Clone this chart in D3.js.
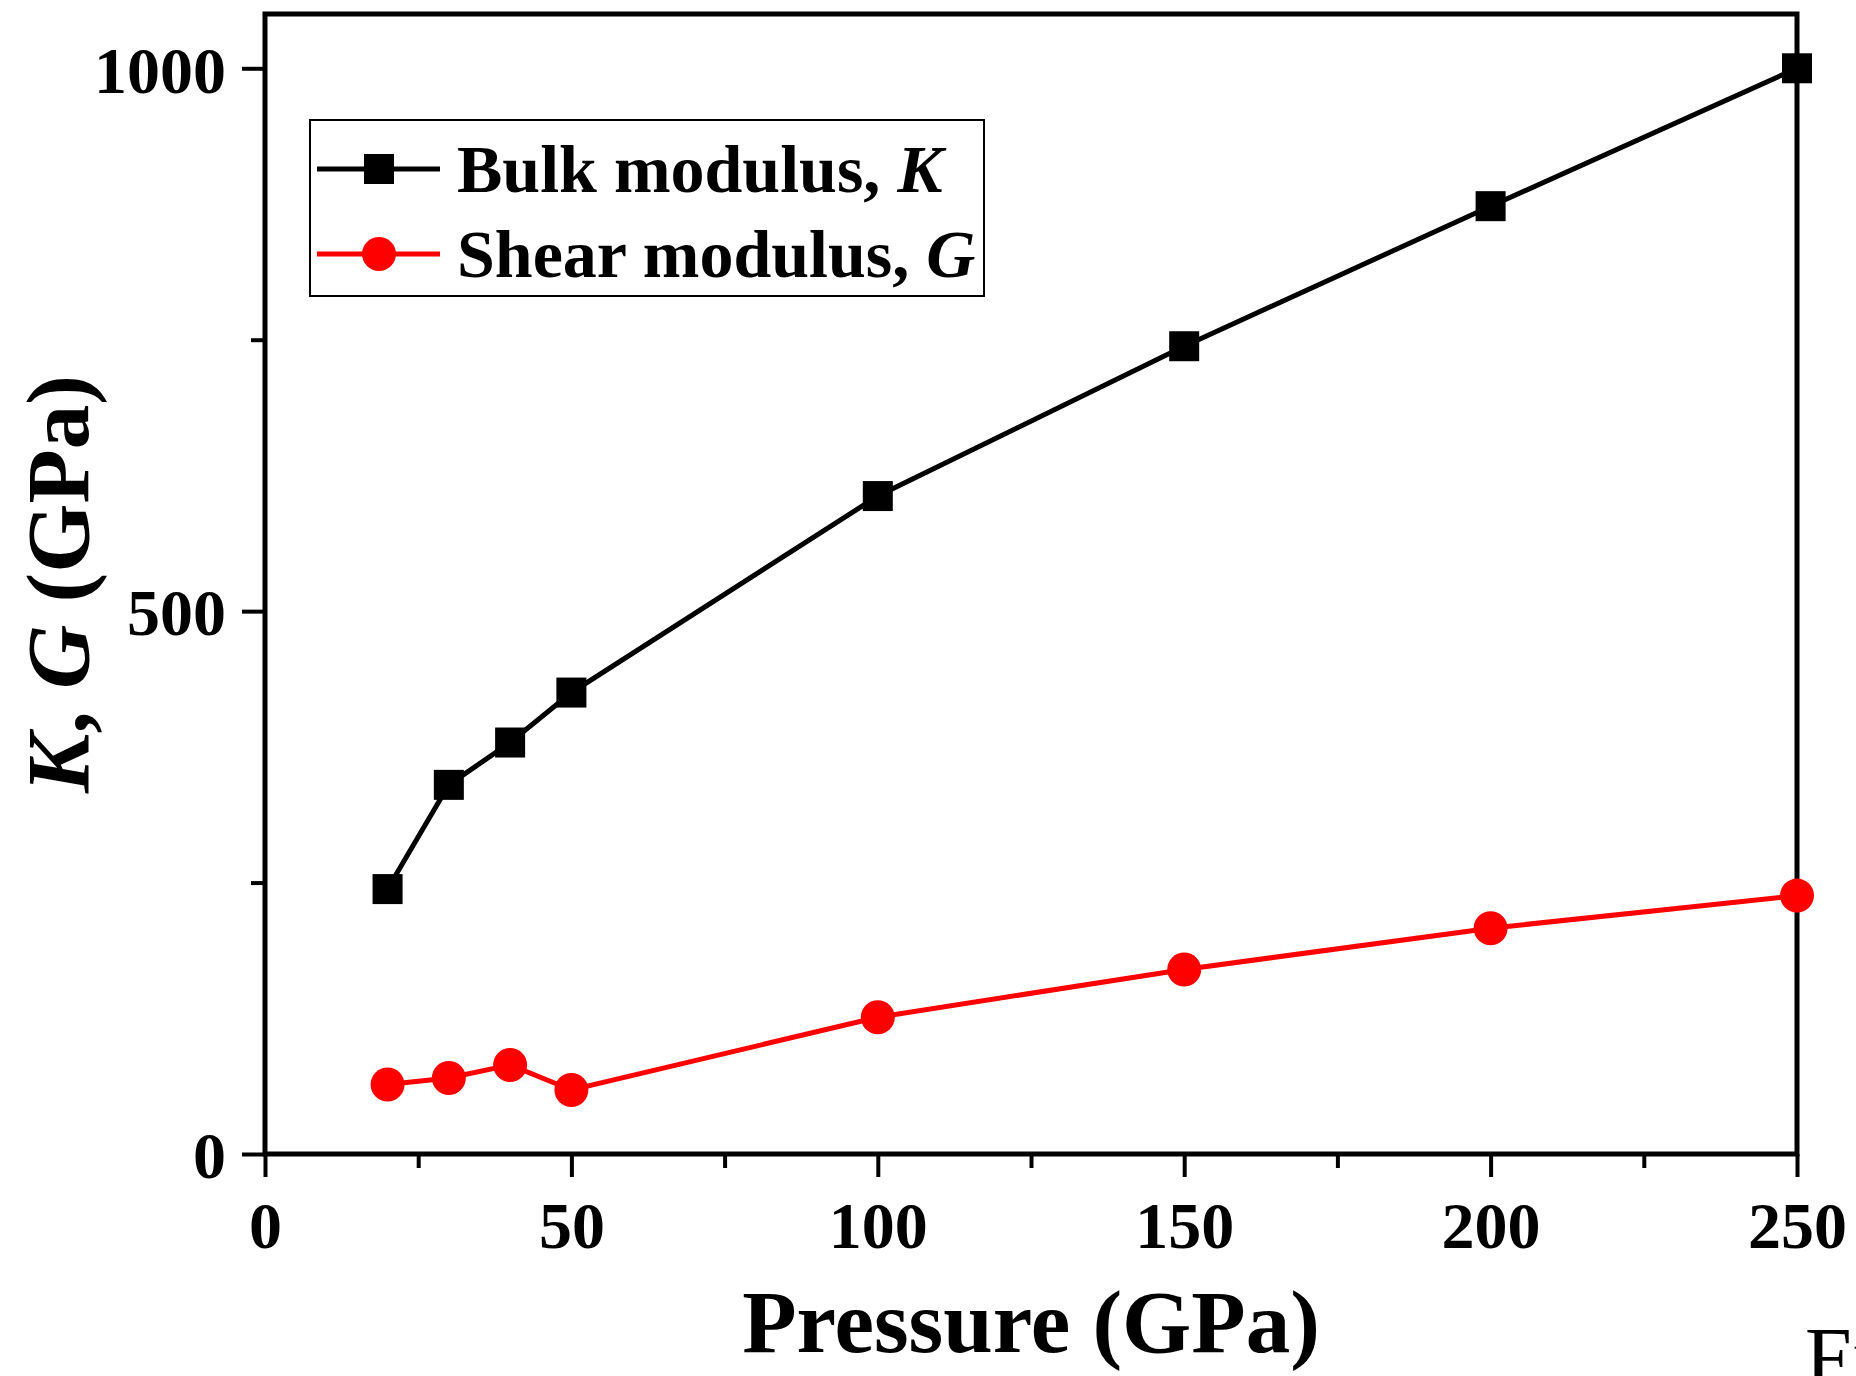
<!DOCTYPE html>
<html>
<head>
<meta charset="utf-8">
<script src="https://cdn.jsdelivr.net/npm/d3@7"></script>
<style>
  body { margin: 0; background: #fff; }
  svg { display: block; }
  text { font-family: 'Liberation Serif', 'Times New Roman', serif; font-weight: bold; fill: #000; }
  .tick line { stroke: #000; stroke-width: 4; }
  .frame { fill: none; stroke: #000; stroke-width: 5; }
  .line { fill: none; stroke-width: 5; }
</style>
</head>
<body>
<div id="chart"></div>
<script>
const pressure = [20, 30, 40, 50, 100, 150, 200, 250];
const bulkValues = [244, 340, 379, 425, 606, 744, 873, 1000];
const shearValues = [64, 70, 82, 59, 126, 170, 208, 238];
const xTicks = [0, 50, 100, 150, 200, 250];
const xMinorTicks = [25, 75, 125, 175, 225];
const yTicks = [0, 500, 1000];
const yMinorTicks = [250, 750];

const size = { width: 1856, height: 1376 };
const plot = { left: 265, right: 1797, top: 14, bottom: 1154 };

const x = d3.scaleLinear()
  .domain([0, 250])
  .range([plot.left, plot.right]);

const y = d3.scaleLinear()
  .domain([0, 1050])
  .range([plot.bottom, plot.top]);

const svg = d3.select('#chart')
  .append('svg')
  .attr('width', size.width)
  .attr('height', size.height);

// minor ticks first, majors on top
svg.append('g')
  .attr('transform', `translate(0,${plot.bottom})`)
  .call(d3.axisBottom(x).tickValues(xMinorTicks).tickSize(14).tickFormat(''))
  .call(g => g.select('.domain').remove());

svg.append('g')
  .attr('transform', `translate(${plot.left},0)`)
  .call(d3.axisLeft(y).tickValues(yMinorTicks).tickSize(14).tickFormat(''))
  .call(g => g.select('.domain').remove());

svg.append('g')
  .attr('transform', `translate(0,${plot.bottom})`)
  .call(d3.axisBottom(x).tickValues(xTicks).tickSize(23).tickPadding(24).tickFormat(d3.format('d')))
  .call(g => g.select('.domain').remove())
  .selectAll('text')
  .style('font-size', '66px')
  .attr('dy', '0.71em');

svg.append('g')
  .attr('transform', `translate(${plot.left},0)`)
  .call(d3.axisLeft(y).tickValues(yTicks).tickSize(23).tickPadding(16).tickFormat(d3.format('d')))
  .call(g => g.select('.domain').remove())
  .selectAll('text')
  .style('font-size', '66px')
  .attr('dy', '0.36em');

svg.append('rect')
  .attr('class', 'frame')
  .attr('x', plot.left)
  .attr('y', plot.top)
  .attr('width', plot.right - plot.left)
  .attr('height', plot.bottom - plot.top);

const line = d3.line()
  .x((d, i) => x(pressure[i]))
  .y(d => y(d));

svg.append('path')
  .attr('class', 'line')
  .attr('stroke', '#000')
  .attr('d', line(bulkValues));

svg.append('path')
  .attr('class', 'line')
  .attr('stroke', '#ff0000')
  .attr('d', line(shearValues));

const sq = 30;
svg.selectAll('.sq')
  .data(bulkValues)
  .enter().append('rect')
  .attr('class', 'sq')
  .attr('x', (d, i) => x(pressure[i]) - sq / 2)
  .attr('y', d => y(d) - sq / 2)
  .attr('width', sq)
  .attr('height', sq)
  .attr('fill', '#000');

svg.selectAll('.dot')
  .data(shearValues)
  .enter().append('circle')
  .attr('class', 'dot')
  .attr('cx', (d, i) => x(pressure[i]))
  .attr('cy', d => y(d))
  .attr('r', 17)
  .attr('fill', '#ff0000');

// legend
const legend = svg.append('g');
legend.append('rect')
  .attr('x', 310).attr('y', 120)
  .attr('width', 674).attr('height', 176)
  .attr('fill', '#fff')
  .attr('stroke', '#000')
  .attr('stroke-width', 2);

const items = [
  { name: 'Bulk modulus, ', sym: 'K', color: '#000', shape: 'square', y: 169 },
  { name: 'Shear modulus, ', sym: 'G', color: '#ff0000', shape: 'circle', y: 254 }
];

items.forEach(it => {
  legend.append('line')
    .attr('x1', 317).attr('x2', 440)
    .attr('y1', it.y).attr('y2', it.y)
    .attr('stroke', it.color)
    .attr('stroke-width', 5);
  if (it.shape === 'square') {
    legend.append('rect')
      .attr('x', 379 - sq / 2).attr('y', it.y - sq / 2)
      .attr('width', sq).attr('height', sq)
      .attr('fill', it.color);
  } else {
    legend.append('circle')
      .attr('cx', 379).attr('cy', it.y).attr('r', 17)
      .attr('fill', it.color);
  }
  const t = legend.append('text')
    .attr('x', 457)
    .attr('y', it.y + 23)
    .style('font-size', '68px');
  t.append('tspan').text(it.name);
  t.append('tspan').style('font-style', 'italic').text(it.sym);
});

// axis titles
svg.append('text')
  .attr('x', (plot.left + plot.right) / 2)
  .attr('y', 1352)
  .attr('text-anchor', 'middle')
  .style('font-size', '89px')
  .text('Pressure (GPa)');

const yl = svg.append('text')
  .attr('transform', `translate(88,${(plot.top + plot.bottom) / 2}) rotate(-90)`)
  .attr('text-anchor', 'middle')
  .style('font-size', '89px');
yl.append('tspan').style('font-style', 'italic').text('K');
yl.append('tspan').text(', ');
yl.append('tspan').style('font-style', 'italic').text('G');
yl.append('tspan').text(' (GPa)');

// caption fragment cut off at the corner, as in the source figure
svg.append('text')
  .attr('x', 1805)
  .attr('y', 1386)
  .style('font-weight', 'normal')
  .style('font-size', '84px')
  .text('Fig.');
</script>
</body>
</html>
